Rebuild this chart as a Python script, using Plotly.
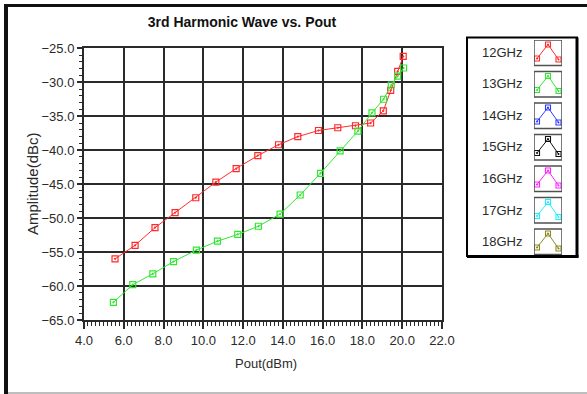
import plotly.graph_objects as go

# ---- data -------------------------------------------------------------
pout_12ghz = [5.56, 6.57, 7.57, 8.58, 9.62, 10.63, 11.65, 12.74, 13.78, 14.75,
              15.79, 16.76, 17.65, 18.41, 19.05, 19.42, 19.77, 20.05]
amp_12ghz = [-56.0, -54.0, -51.4, -49.2, -47.0, -44.7, -42.7, -40.8, -39.2, -38.0,
             -37.1, -36.7, -36.4, -36.0, -34.2, -31.2, -28.4, -26.2]

pout_13ghz = [5.48, 6.45, 7.46, 8.50, 9.65, 10.71, 11.73, 12.77, 13.86, 14.87,
              15.89, 16.88, 17.77, 18.48, 19.06, 19.45, 19.77, 20.07]
amp_13ghz = [-62.4, -59.8, -58.2, -56.4, -54.7, -53.4, -52.4, -51.2, -49.4, -46.6,
             -43.4, -40.1, -37.2, -34.5, -32.5, -30.4, -29.1, -27.9]

legend_labels = ["12GHz", "13GHz", "14GHz", "15GHz", "16GHz", "17GHz", "18GHz"]
legend_colors = ["#ff2a2a", "#33e633", "#2a3cff", "#111111", "#ff22ff", "#22f0ff", "#8c8a1e"]

W, H = 587, 394


def px(x):
    return x / W


def py(y):
    return 1 - y / H


fig = go.Figure()

series = [(pout_12ghz, amp_12ghz, legend_colors[0], legend_labels[0]),
          (pout_13ghz, amp_13ghz, legend_colors[1], legend_labels[1])]
for xs, ys, col, name in series:
    fig.add_trace(go.Scatter(
        x=xs, y=ys, mode="lines+markers", name=name,
        line=dict(color=col, width=1),
        marker=dict(symbol="square-open-dot", size=6, color=col, line=dict(width=1.2, color=col)),
        showlegend=False, xaxis="x", yaxis="y",
    ))

# ---- legend glyphs drawn on a pixel-scaled helper axis -----------------
LEG_TOP = 40.0
LEG_STEP = 31.5
glyph_dx = [3.0, 14.0, 24.5]
glyph_dy = [18.5, 4.5, 19.5]
shapes = []
annotations = []
for i, (lab, col) in enumerate(zip(legend_labels, legend_colors)):
    top = LEG_TOP + i * LEG_STEP
    fig.add_trace(go.Scatter(
        x=glyph_dx, y=[top + d for d in glyph_dy], mode="lines+markers",
        line=dict(color=col, width=1),
        marker=dict(symbol="square-open-dot", size=5, color=col, line=dict(width=1.1, color=col)),
        showlegend=False, hoverinfo="skip", xaxis="x2", yaxis="y2",
    ))
    shapes.append(dict(type="rect", xref="x2", yref="y2", x0=0, x1=28, y0=top, y1=top + 25.5,
                       line=dict(color="#505050", width=1.5)))
    annotations.append(dict(text=lab, xref="paper", yref="paper", x=px(524), y=py(top + 12.5),
                            xanchor="right", yanchor="middle", showarrow=False,
                            font=dict(family="Liberation Sans", size=13, color="#2a2a2a")))

# axis titles
annotations.append(dict(text="Pout(dBm)", xref="paper", yref="paper", x=px(266), y=py(363),
                        xanchor="center", yanchor="middle", showarrow=False,
                        font=dict(family="Liberation Sans", size=13, color="#2a2a2a")))
annotations.append(dict(text="Amplitude(dBc)", xref="paper", yref="paper", x=px(32), y=py(184),
                        xanchor="center", yanchor="middle", showarrow=False, textangle=-90,
                        font=dict(family="Liberation Sans", size=15, color="#2a2a2a")))

# legend frame
shapes.append(dict(type="rect", xref="paper", yref="paper", x0=px(467), x1=px(577),
                   y0=py(37.5), y1=py(256), line=dict(color="black", width=2)))
shapes.append(dict(type="line", xref="paper", yref="paper", x0=px(577), x1=px(577),
                   y0=py(37.5), y1=py(257.5), line=dict(color="black", width=3)))
shapes.append(dict(type="line", xref="paper", yref="paper", x0=px(467), x1=px(578.5),
                   y0=py(256.5), y1=py(256.5), line=dict(color="black", width=3)))

# outer panel frame
shapes.append(dict(type="line", xref="paper", yref="paper", x0=px(4), x1=1,
                   y0=py(5.5), y1=py(5.5), line=dict(color="#111111", width=3)))
shapes.append(dict(type="line", xref="paper", yref="paper", x0=px(6), x1=px(6),
                   y0=py(4), y1=0, line=dict(color="#111111", width=4)))
shapes.append(dict(type="line", xref="paper", yref="paper", x0=px(8), x1=1,
                   y0=py(393), y1=py(393), line=dict(color="#a8a8a8", width=1.5)))

tick_font = dict(family="Liberation Sans", size=13, color="#2a2a2a")

fig.update_layout(
    width=W, height=H,
    margin=dict(l=0, r=0, t=0, b=0, pad=0, autoexpand=False),
    paper_bgcolor="white", plot_bgcolor="white",
    title=dict(text="<b>3rd Harmonic Wave vs. Pout</b>", x=px(242), y=py(22),
               xanchor="center", yanchor="middle", automargin=False,
               font=dict(family="Liberation Sans", size=14, color="#111111")),
    xaxis=dict(domain=[px(84), px(442)], range=[4, 22], dtick=2, tick0=4, automargin=False,
               tickformat=".1f", showgrid=True, gridcolor="#2a2a2a", gridwidth=1.5,
               showline=True, linecolor="#2a2a2a", linewidth=2, mirror=True,
               ticks="outside", ticklen=7, tickwidth=1.5, tickcolor="#2a2a2a",
               minor=dict(dtick=0.2, ticklen=4, tickwidth=1, tickcolor="#2a2a2a", showgrid=False),
               tickfont=tick_font, zeroline=False),
    yaxis=dict(domain=[py(320), py(48.3)], range=[-65, -25], dtick=5, tick0=-65, automargin=False,
               tickformat=".1f", showgrid=True, gridcolor="#2a2a2a", gridwidth=1.5,
               showline=True, linecolor="#2a2a2a", linewidth=2, mirror=True,
               ticks="outside", ticklen=5, tickwidth=1.5, tickcolor="#2a2a2a",
               minor=dict(dtick=1, ticklen=3, tickwidth=1, tickcolor="#2a2a2a", showgrid=False),
               tickfont=tick_font, zeroline=False),
    xaxis2=dict(domain=[px(534), px(562)], range=[0, 28], visible=False, fixedrange=True),
    yaxis2=dict(domain=[py(40 + 7 * LEG_STEP), py(40)], range=[40 + 7 * LEG_STEP, 40],
                visible=False, fixedrange=True, anchor="x2"),
    shapes=shapes,
    annotations=annotations,
    showlegend=False,
)

# page without the default body margin so the figure sits at the window origin
fig.write_html(
    "out.html",
    config={"displayModeBar": False},
    post_script="document.body.style.margin='0';document.body.style.overflow='hidden';",
)
